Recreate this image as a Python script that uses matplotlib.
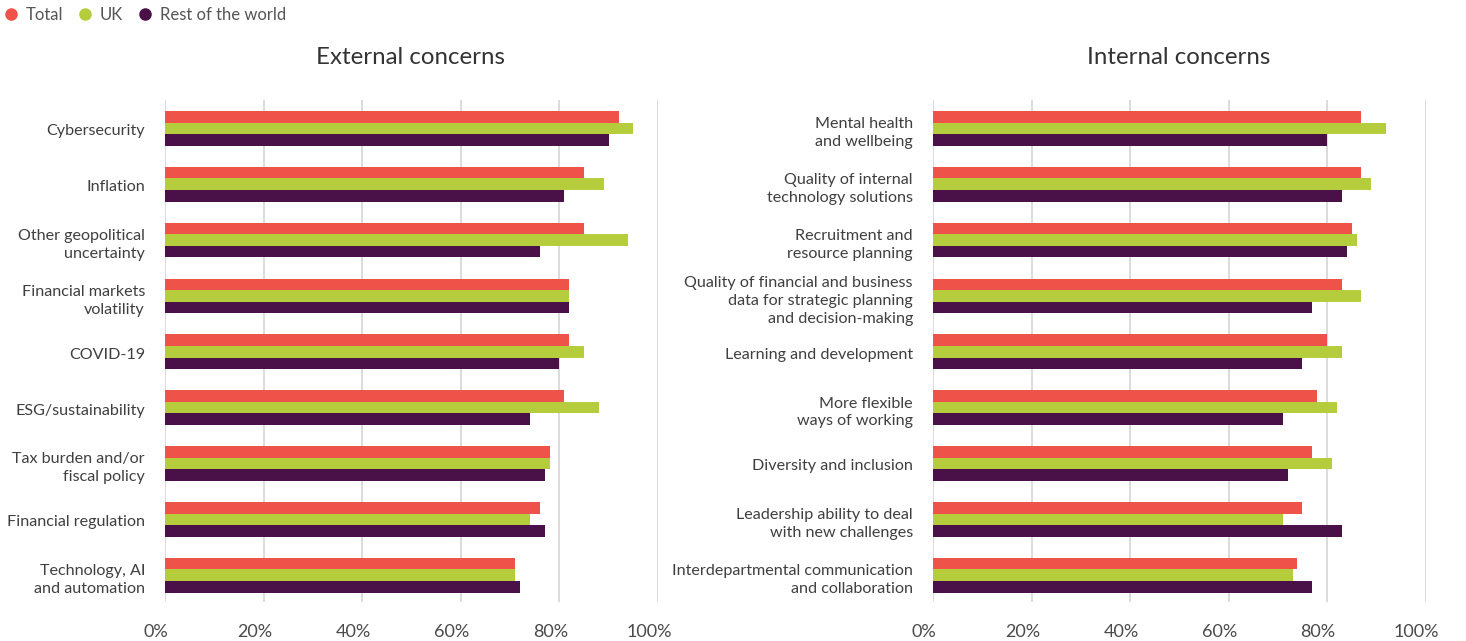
import matplotlib
matplotlib.use("Agg")
import matplotlib.pyplot as plt
import matplotlib.transforms as mtransforms
from matplotlib.lines import Line2D
import numpy as np

plt.rcParams['font.family'] = ['Lato', 'DejaVu Sans']

series = ["Total", "UK", "Rest of the world"]
colors = ["#EF5249", "#B5CC3D", "#4A1048"]

external_labels = [
    "Cybersecurity",
    "Inflation",
    "Other geopolitical\nuncertainty",
    "Financial markets\nvolatility",
    "COVID-19",
    "ESG/sustainability",
    "Tax burden and/or\nfiscal policy",
    "Financial regulation",
    "Technology, AI\nand automation",
]
external_total = [92, 85, 85, 82, 82, 81, 78, 76, 71]
external_uk = [95, 89, 94, 82, 85, 88, 78, 74, 71]
external_row = [90, 81, 76, 82, 80, 74, 77, 77, 72]

internal_labels = [
    "Mental health\nand wellbeing",
    "Quality of internal\ntechnology solutions",
    "Recruitment and\nresource planning",
    "Quality of financial and business\ndata for strategic planning\nand decision-making",
    "Learning and development",
    "More flexible\nways of working",
    "Diversity and inclusion",
    "Leadership ability to deal\nwith new challenges",
    "Interdepartmental communication\nand collaboration",
]
internal_total = [87, 87, 85, 83, 80, 78, 77, 75, 74]
internal_uk = [92, 89, 86, 87, 83, 82, 81, 71, 73]
internal_row = [80, 83, 84, 77, 75, 71, 72, 83, 77]

x_ticks = [0, 20, 40, 60, 80, 100]
x_ticklabels = ["0%", "20%", "40%", "60%", "80%", "100%"]

W, H = 1466, 641
fig = plt.figure(figsize=(W / 100, H / 100), dpi=100)

text_color = "#3f3f3f"
grid_color = "#dcdcdc"
bar_h = 0.207


def draw_panel(rect, labels, vals):
    ax = fig.add_axes(rect)
    y = np.arange(len(labels))
    for k, (v, c) in enumerate(zip(vals, colors)):
        ax.barh(y + (k - 1) * bar_h, v, height=bar_h, color=c,
                edgecolor="none", zorder=3)
    ax.set_xlim(0, 100)
    ax.set_ylim(len(labels) - 1 + 0.48, -0.507)
    ax.set_xticks(x_ticks)
    ax.set_xticklabels(x_ticklabels)
    ax.set_yticks(y)
    ax.set_yticklabels(labels, linespacing=1.35)
    ax.tick_params(axis="x", length=0, pad=16, labelsize=13, labelcolor="#4a4a4a")
    ax.tick_params(axis="y", length=0, pad=14.4, labelsize=11.6, labelcolor=text_color)
    for lab in ax.get_xticklabels():
        lab.set_transform(lab.get_transform() +
                          mtransforms.ScaledTranslation(-9 / 100, 0, fig.dpi_scale_trans))
    for lab in ax.get_yticklabels():
        lab.set_transform(lab.get_transform() +
                          mtransforms.ScaledTranslation(0, -1.5 / 100, fig.dpi_scale_trans))
    for s in ax.spines.values():
        s.set_visible(False)
    ax.grid(axis="x", color=grid_color, linewidth=1.4, zorder=0)
    ax.grid(axis="y", visible=False)
    return ax


top = 1 - 100 / H
bottom = 1 - 602 / H
draw_panel([165 / W, bottom, (658 - 165) / W, top - bottom],
           external_labels, [external_total, external_uk, external_row])
draw_panel([933 / W, bottom, (1425.5 - 933) / W, top - bottom],
           internal_labels, [internal_total, internal_uk, internal_row])

fig.text(411 / W, 1 - 57 / H, "External concerns", ha="center", va="center",
         fontsize=17.3, color="#333333")
fig.text(1179 / W, 1 - 57 / H, "Internal concerns", ha="center", va="center",
         fontsize=17.3, color="#333333")

handles = [Line2D([], [], linestyle="none", marker="o", markersize=8,
                  markerfacecolor=c, markeredgecolor=c) for c in colors]
fig.legend(handles, series, loc="upper left", bbox_to_anchor=(-0.003, 1.0),
           ncol=3, frameon=False, fontsize=12, labelcolor="#555555",
           handletextpad=0.4, columnspacing=0.8, handlelength=1.0,
           borderaxespad=0.2, borderpad=0.2)

fig.savefig("out.png", dpi=100)
